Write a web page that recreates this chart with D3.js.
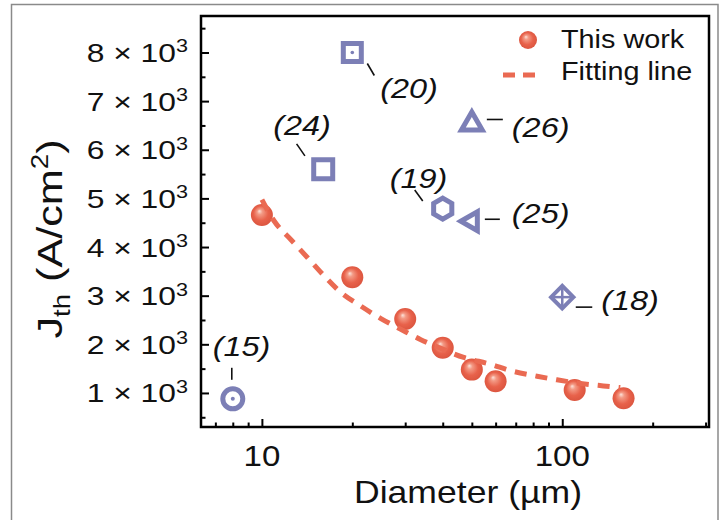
<!DOCTYPE html>
<html><head><meta charset="utf-8">
<script src="https://cdn.jsdelivr.net/npm/d3@7"></script>
<style>
html,body{margin:0;padding:0;background:#fff;}
svg{display:block;font-family:"Liberation Sans",Arial,sans-serif;}
</style>
</head><body>
<svg id="chart" width="727" height="520"></svg>
<script>
// ---------------- data ----------------
const diameters = [10, 20, 30, 40, 50, 60, 110, 160];
const jth = [4660, 3380, 2520, 1930, 1480, 1240, 1060, 890];

const fitD = [10, 11, 12.5, 14.2, 16.1, 18.3, 21.3, 24.9, 29, 33.7, 38.3, 47, 57.7, 67.2, 82.4, 96, 112, 137, 156];
const fitJ = [4975, 4530, 4150, 3780, 3410, 3070, 2790, 2530, 2310, 2100, 1950, 1730, 1590, 1460, 1345, 1270, 1205, 1145, 1110];

const refLabels = ["(20)", "(24)", "(26)", "(19)", "(25)", "(18)", "(15)"];
const refD = [20, 16, 50, 40, 50, 100, 8];
const refJ = [8000, 5600, 6530, 4790, 4530, 2970, 880];
const refShapes = ["squareDot", "square", "triangleUp", "hexagon", "triangleLeft", "diamondCross", "circleDot"];

const xTickValues = [10, 100];
const xTickLabels = ["10", "100"];
const yTickValues = [1000, 2000, 3000, 4000, 5000, 6000, 7000, 8000];
const yTickMantissas = ["1", "2", "3", "4", "5", "6", "7", "8"];
const legendLabels = ["This work", "Fitting line"];
const xTitle = "Diameter (µm)";

// ---------------- layout ----------------
const L = 201, R = 709, T = 16, B = 427;
const BLUE = "#7c7fb6", LINE_RED = "#ea6a52";
const SX = 1.13; // horizontal text stretch

const svg = d3.select("#chart");
const x = d3.scaleLog().domain([6.27, 308]).range([L, R]);
const y = d3.scaleLinear().domain([300, 8750]).range([B, T]);

// gradient for spheres
const defs = svg.append("defs");
const grad = defs.append("radialGradient").attr("id", "sph")
  .attr("cx", "0.5").attr("cy", "0.5").attr("r", "0.55").attr("fx", "0.38").attr("fy", "0.32");
grad.append("stop").attr("offset", "0").attr("stop-color", "#fde3da");
grad.append("stop").attr("offset", "0.22").attr("stop-color", "#f39a85");
grad.append("stop").attr("offset", "0.6").attr("stop-color", "#e8624b");
grad.append("stop").attr("offset", "1").attr("stop-color", "#d9533d");

// outer frame
svg.append("rect").attr("x", 11.5).attr("y", 4.5).attr("width", 706.5).attr("height", 600)
  .attr("fill", "none").attr("stroke", "#8a8a8a").attr("stroke-width", 1.5);

// ticks
const xMinor = [];
for (let d = 7; d <= 300; d += (d < 10 ? 1 : d < 100 ? 10 : 100)) if (!xTickValues.includes(d)) xMinor.push(d);
const gx = svg.append("g").attr("transform", `translate(0,${B})`);
gx.call(d3.axisBottom(x).tickValues(xTickValues).tickSize(-8).tickFormat(""));
gx.append("g").call(d3.axisBottom(x).tickValues(xMinor).tickSize(-4.5).tickFormat(""));
const yMinor = d3.range(500, 8600, 1000);
const gy = svg.append("g").attr("transform", `translate(${L},0)`);
gy.call(d3.axisLeft(y).tickValues(yTickValues).tickSize(-8).tickFormat(""));
gy.append("g").call(d3.axisLeft(y).tickValues(yMinor).tickSize(-4.5).tickFormat(""));
svg.selectAll(".domain").remove();
svg.selectAll(".tick line").attr("stroke", "#000").attr("stroke-width", 2);

// frame
svg.append("rect").attr("x", L).attr("y", T).attr("width", R - L).attr("height", B - T)
  .attr("fill", "none").attr("stroke", "#000").attr("stroke-width", 2.5);

function stext(px, py, sx, anchor, size) {
  return svg.append("text").attr("transform", `translate(${px},${py}) scale(${sx},1)`)
    .attr("text-anchor", anchor).attr("font-size", size).attr("fill", "#111");
}

// y tick labels
yTickValues.forEach((v, i) => {
  const t = stext(188, y(v) + 9.5, 1.2, "end", 26.5);
  t.append("tspan").text(yTickMantissas[i] + " × 10");
  t.append("tspan").attr("font-size", 18).attr("dy", -9.5).text("3");
});
// x tick labels
xTickValues.forEach((v, i) => {
  stext(x(v), 466, 1.14, "middle", 29).text(xTickLabels[i]);
});
// axis titles
stext((L + R) / 2 + 13, 503, SX, "middle", 31.5).text(xTitle);
const yt = svg.append("text").attr("transform", `translate(62,239) rotate(-90) scale(1.2,1)`)
  .attr("text-anchor", "middle").attr("font-size", 36).attr("fill", "#111");
yt.append("tspan").text("J");
yt.append("tspan").attr("font-size", 23).attr("dy", 8).text("th");
yt.append("tspan").attr("dy", -8).text(" (A/cm");
yt.append("tspan").attr("font-size", 23).attr("dy", -14).text("2");
yt.append("tspan").attr("dy", 14).text(")");

// reference markers
const shapeDefs = {
  square: {draw(c, s) { const h = Math.sqrt(s) / 2; c.rect(-h, -h, 2 * h, 2 * h); }},
  poly: (n, rot) => ({draw(c, s) { const r = Math.sqrt(s);
    for (let i = 0; i < n; i++) { const a = rot + 2 * Math.PI * i / n;
      const px = r * Math.cos(a), py = r * Math.sin(a); i ? c.lineTo(px, py) : c.moveTo(px, py); }
    c.closePath(); }})
};
const markerSpec = {
  squareDot: {type: shapeDefs.square, size: 18 * 18, dot: 1.8},
  square: {type: shapeDefs.square, size: 19 * 19},
  triangleUp: {type: shapeDefs.poly(3, -Math.PI / 2), size: 12 * 12},
  hexagon: {type: shapeDefs.poly(6, -Math.PI / 2), size: 10.5 * 10.5},
  triangleLeft: {type: shapeDefs.poly(3, Math.PI), size: 11 * 11},
  diamondCross: {type: shapeDefs.poly(4, 0), size: 11.2 * 11.2, cross: 11.2, sw: 4},
  circleDot: {type: d3.symbolCircle, size: Math.PI * 10 * 10, dot: 2}
};
const refLayout = [
  {line: [15, 11, 22, 23], text: [28, 46]},
  {line: [-26.6, -25.3, -18.3, -13.3], text: [-50, -34]},
  {line: [15, -4.5, 31, -4.5], text: [40, 13]},
  {line: [-28, -18.6, -20, -7.6], text: [-53, -21]},
  {line: [13, -2, 28, -2], text: [40, 2]},
  {line: [13.5, 10, 30, 10], text: [39, 13]},
  {line: [-1, -31, -1, -19], text: [-20, -43]}
];
refLabels.forEach((lab, i) => {
  const cx = x(refD[i]), cy = y(refJ[i]);
  const spec = markerSpec[refShapes[i]];
  const g = svg.append("g").attr("transform", `translate(${cx},${cy})`);
  g.append("path").attr("d", d3.symbol().type(spec.type).size(spec.size)())
    .attr("fill", "none").attr("stroke", BLUE).attr("stroke-width", spec.sw || 5);
  if (spec.dot) g.append("circle").attr("r", spec.dot).attr("fill", BLUE);
  if (spec.cross) {
    g.append("line").attr("x1", -spec.cross).attr("x2", spec.cross).attr("stroke", BLUE).attr("stroke-width", 2.5);
    g.append("line").attr("y1", -spec.cross).attr("y2", spec.cross).attr("stroke", BLUE).attr("stroke-width", 2.5);
  }
  const lay = refLayout[i];
  svg.append("line").attr("x1", cx + lay.line[0]).attr("y1", cy + lay.line[1])
    .attr("x2", cx + lay.line[2]).attr("y2", cy + lay.line[3])
    .attr("stroke", "#111").attr("stroke-width", 1.6);
  stext(cx + lay.text[0], cy + lay.text[1], 1.2, "start", 27).attr("font-style", "italic").text(lab);
});

// this work spheres
svg.append("g").selectAll("circle").data(diameters).join("circle")
  .attr("cx", d => x(d)).attr("cy", (d, i) => y(jth[i])).attr("r", 11).attr("fill", "url(#sph)");

// fitting line
const fitPts = fitD.map((d, i) => [d, fitJ[i]]);
svg.append("path").attr("d", d3.line().x(d => x(d[0])).y(d => y(d[1])).curve(d3.curveMonotoneX)(fitPts))
  .attr("fill", "none").attr("stroke", LINE_RED).attr("stroke-width", 5).attr("stroke-dasharray", "12,9");

// legend
svg.append("circle").attr("cx", 528).attr("cy", 40).attr("r", 9).attr("fill", "url(#sph)");
svg.append("line").attr("x1", 503).attr("x2", 535).attr("y1", 75).attr("y2", 75)
  .attr("stroke", LINE_RED).attr("stroke-width", 5).attr("stroke-dasharray", "12,8");
stext(561, 48, SX, "start", 25.5).text(legendLabels[0]);
stext(561, 80, SX, "start", 25.5).text(legendLabels[1]);
</script>
</body></html>
